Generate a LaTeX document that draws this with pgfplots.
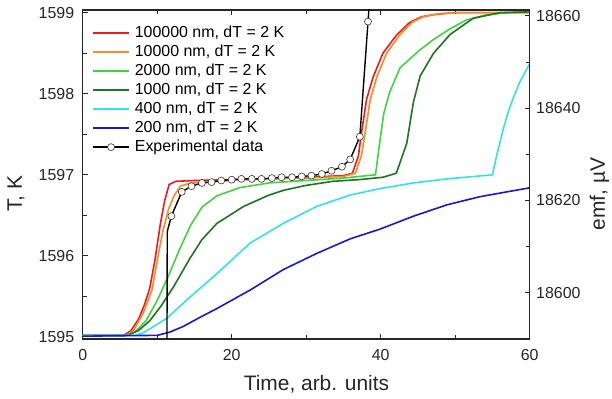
\documentclass[border=0pt]{standalone}
\usepackage{pgfplots}
\pgfplotsset{compat=1.18}
\usepackage{fontspec}
\setmainfont{Liberation Sans}

\definecolor{cRed}{RGB}{236,28,28}
\definecolor{cOrange}{RGB}{250,138,40}
\definecolor{cLGreen}{RGB}{62,212,62}
\definecolor{cDGreen}{RGB}{30,118,30}
\definecolor{cCyan}{RGB}{48,226,236}
\definecolor{cBlue}{RGB}{24,24,214}

\pgfplotsset{
  common/.style={
    at={(0,0)}, anchor=south west, scale only axis,
    width=447bp, height=329bp,
    xmin=0, xmax=60,
    tick align=inside,
    major tick length=5bp, minor tick length=4bp,
    axis line style={line width=1.1bp, black!85},
    every tick/.style={black!85, line width=1bp},
    scaled ticks=false,
    /pgf/number format/assume math mode=true,
    /pgf/number format/1000 sep={},
    tick label style={font=\fontsize{16}{19}\selectfont, text=black!85},
    label style={font=\fontsize{21}{25}\selectfont, text=black!85},
  },
  curve/.style={line width=1.6bp},
}

\begin{document}
\begin{tikzpicture}
\path[use as bounding box] (-82.7bp,-60bp) rectangle (529.3bp,339bp);

% temperature axis (left) with the simulated curves
\begin{axis}[
  common,
  ymin=1594.975, ymax=1599.033,
  xtick={0,20,40,60}, minor xtick={10,30,50},
  ytick={1595,1596,1597,1598,1599},
  minor ytick={1595.5,1596.5,1597.5,1598.5},
  xtick pos=both, xticklabel pos=lower, ytick pos=left,
  xticklabel style={yshift=-7bp},
  yticklabel style={xshift=-5bp},
  xlabel={Time, arb. units},
  ylabel={T, K},
  xlabel style={at={(axis description cs:0.523,-0.137)}, anchor=center},
  ylabel style={at={(axis description cs:-0.149,0.441)}, anchor=center},
  legend style={
    at={(axis description cs:0.021,0.953)}, anchor=north west,
    draw=none, fill=none, inner sep=0pt,
    font=\fontsize{16}{19}\selectfont,
    row sep=4.0bp,
    nodes={inner sep=0pt, text height=12bp, text depth=3bp},
    /tikz/every odd column/.append style={column sep=5bp},
  },
  legend cell align=left,
  legend image code/.code={
    \draw[mark repeat=2, mark phase=2, #1]
      plot coordinates {(0bp,0bp) (18bp,0bp) (36bp,0bp)};
  },
]

\addplot[cRed, curve] coordinates {
  (0,1595.02) (5.5,1595.02) (6.5,1595.08) (7.5,1595.22) (8.3,1595.4)
  (9.0,1595.6) (9.7,1595.95) (10.4,1596.38) (11.0,1596.68) (11.6,1596.88)
  (12.5,1596.92) (15,1596.93) (20,1596.94) (25,1596.95) (30,1596.97)
  (35,1596.99) (36.2,1597.02) (37.0,1597.23) (37.4,1597.5) (38.1,1597.93)
  (39.0,1598.21) (40.3,1598.5) (42.1,1598.72) (43.9,1598.88) (45.5,1598.95)
  (47.5,1598.98) (50,1599.0) (60,1599.0)
};
\addlegendentry{100000 nm, dT = 2 K}

\addplot[cOrange, curve] coordinates {
  (0,1595.02) (5.8,1595.02) (6.8,1595.08) (8.1,1595.29) (9.3,1595.58)
  (10.1,1595.99) (10.8,1596.32) (11.5,1596.57) (12.2,1596.73) (13.1,1596.86)
  (14.5,1596.9) (20,1596.93) (25,1596.95) (30,1596.96) (35,1596.98)
  (36.6,1597.02) (37.4,1597.23) (37.9,1597.51) (38.6,1597.93) (39.5,1598.21)
  (40.8,1598.5) (42.5,1598.72) (44.2,1598.88) (45.7,1598.95) (48,1598.99)
  (50.5,1599.0) (60,1599.0)
};
\addlegendentry{10000 nm, dT = 2 K}

\addplot[cLGreen, curve] coordinates {
  (0,1595.02) (5.8,1595.02) (7,1595.06) (8.5,1595.2) (10,1595.45)
  (11.5,1595.75) (13,1596.08) (14.5,1596.38) (16,1596.6) (18,1596.74)
  (21,1596.84) (25,1596.9) (30,1596.93) (35,1596.96) (39.3,1597.0)
  (39.8,1597.35) (40.4,1597.75) (41.2,1598.02) (42.6,1598.32) (45,1598.52)
  (47.1,1598.67) (49.3,1598.8) (51.5,1598.91) (54,1598.97) (57,1599.0)
  (60,1599.01)
};
\addlegendentry{2000 nm, dT = 2 K}

\addplot[cDGreen, curve] coordinates {
  (0,1595.02) (6.0,1595.02) (7.5,1595.08) (9,1595.2) (10.5,1595.38)
  (12.2,1595.62) (14.4,1595.97) (16,1596.2) (18,1596.4) (21.6,1596.61)
  (25,1596.75) (27,1596.81) (30,1596.87) (33.6,1596.92) (37,1596.94)
  (40.3,1596.97) (42.1,1597.02) (43.5,1597.39) (44.4,1597.9) (45.3,1598.22)
  (47.1,1598.5) (49.3,1598.73) (52.4,1598.93) (56,1599.0) (60,1599.01)
};
\addlegendentry{1000 nm, dT = 2 K}

\addplot[cCyan, curve] coordinates {
  (0,1595.02) (7,1595.02) (8.1,1595.05) (11.3,1595.23) (14,1595.46)
  (18,1595.78) (22.5,1596.16) (26.9,1596.4) (31.4,1596.61) (35.9,1596.75)
  (39.9,1596.83) (44.4,1596.9) (48.9,1596.95) (55.0,1597.0) (55.6,1597.25)
  (56.5,1597.58) (57.2,1597.8) (57.8,1597.95) (58.7,1598.15) (60,1598.37)
};
\addlegendentry{400 nm, dT = 2 K}

\addplot[cBlue, curve] coordinates {
  (0,1595.01) (10,1595.02) (11.7,1595.06) (13.5,1595.13) (15.7,1595.24)
  (18,1595.35) (22.5,1595.58) (26.9,1595.83) (31.4,1596.03) (35.9,1596.21)
  (39.9,1596.33) (44.4,1596.49) (48.9,1596.63) (53.3,1596.73) (60,1596.84)
};
\addlegendentry{200 nm, dT = 2 K}

% measured trace: leading and trailing parts without markers
\addplot[black, line width=1.4bp, forget plot] coordinates {
  (11.3,1594.5) (11.35,1596.3) (11.9,1596.49)
};
\addplot[black, line width=1.4bp, forget plot] coordinates {
  (38.3,1598.89) (38.7,1599.4)
};
\addplot[black, line width=1.4bp, mark=*, mark size=3.5bp,
  mark options={fill=white, draw=black!80, line width=0.6bp}] coordinates {
  (11.9,1596.49) (13.3,1596.79) (14.6,1596.86) (16.0,1596.90) (17.3,1596.91)
  (18.6,1596.93) (20.0,1596.94) (21.3,1596.95) (22.7,1596.95) (24.0,1596.95)
  (25.4,1596.96) (26.7,1596.97) (28.1,1596.97) (29.4,1596.98) (30.7,1596.99)
  (32.1,1597.01) (33.4,1597.05) (34.8,1597.10) (35.9,1597.19) (37.2,1597.47)
  (38.3,1598.89)
};
\addlegendentry{Experimental data}
\end{axis}

% emf axis (right)
\begin{axis}[
  common,
  ymin=18589.93, ymax=18661.3,
  axis x line=none, axis y line*=right,
  ytick={18600,18620,18640,18660},
  minor ytick={18610,18630,18650},
  yticklabel style={xshift=3bp},
  ylabel={emf, µV},
  ylabel style={at={(axis description cs:1.156,0.441)}, anchor=center},
]
\addplot[draw=none, forget plot] coordinates {(0,18600)};
\end{axis}
\end{tikzpicture}
\end{document}
